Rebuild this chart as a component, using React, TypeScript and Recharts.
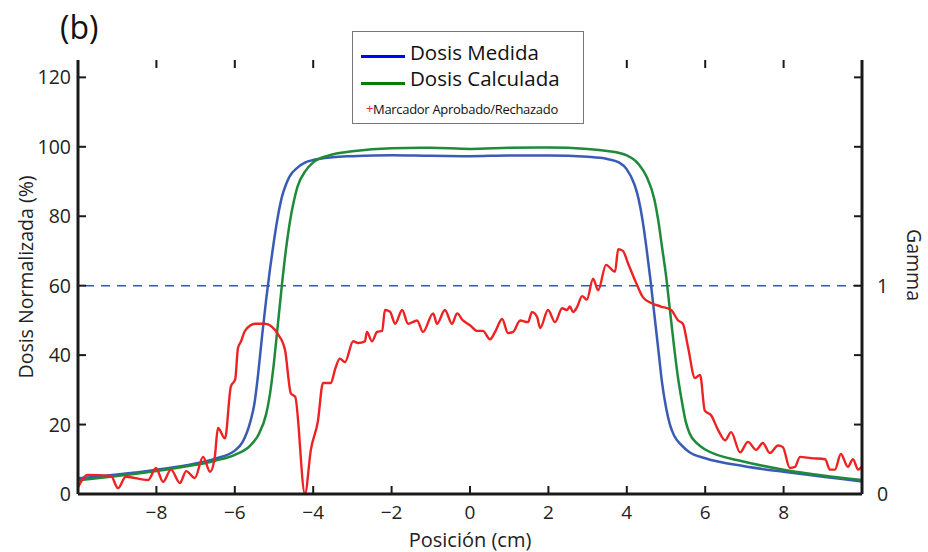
import { LineChart, Line, XAxis, YAxis, ReferenceLine } from "recharts";

// Dose profiles across the field: [position (cm), normalized dose (%)]
const dosisMedida: [number, number][] = [
  [-10, 4.5], [-9, 5.6], [-8, 7.0], [-7, 8.8], [-6.5, 10.2], [-6, 12.5], [-5.8, 15],
  [-5.6, 21], [-5.5, 26], [-5.4, 35], [-5.3, 46], [-5.2, 56], [-5.1, 65], [-5.0, 73],
  [-4.9, 80], [-4.8, 85.5], [-4.7, 89], [-4.6, 91.5], [-4.4, 94], [-4.2, 95.5], [-4, 96.2],
  [-3.5, 97], [-3, 97.3], [-2, 97.6], [-1, 97.4], [0, 97.3], [1, 97.5], [2, 97.5], [3, 97.1],
  [3.5, 96.5], [3.8, 95.5], [4, 93.5], [4.2, 89], [4.3, 85], [4.4, 79], [4.5, 71], [4.6, 62],
  [4.7, 52], [4.8, 42], [4.9, 32], [5.0, 25], [5.1, 20], [5.2, 17], [5.4, 14], [5.6, 12],
  [6, 10.3], [7, 8], [8, 6.4], [9, 5], [10, 3.6],
];

const dosisCalculada: [number, number][] = [
  [-10, 3.9], [-9, 5.2], [-8, 6.6], [-7, 8.4], [-6.5, 9.6], [-6, 11.3], [-5.6, 14],
  [-5.4, 17], [-5.2, 23], [-5.1, 29], [-5.0, 38], [-4.9, 49], [-4.8, 60], [-4.7, 70],
  [-4.6, 78], [-4.5, 84], [-4.4, 88.5], [-4.2, 93], [-4, 95.5], [-3.6, 97.5], [-3, 98.7],
  [-2, 99.6], [-1, 99.7], [0, 99.4], [1, 99.7], [2, 99.8], [3, 99.4], [3.5, 98.8], [4, 97.5],
  [4.3, 95], [4.5, 91.5], [4.7, 85], [4.8, 79], [4.9, 71], [5.0, 63], [5.1, 53], [5.2, 43],
  [5.3, 34], [5.4, 27], [5.5, 21], [5.6, 17.5], [5.8, 14.5], [6, 12.8], [7, 9.3], [8, 7],
  [9, 5.3], [10, 4],
];

// Gamma index along the profile: [position (cm), gamma]
const gamma: [number, number][] = [
  [-10, 0.033], [-9.75, 0.092], [-9.16, 0.087], [-8.98, 0.028], [-8.78, 0.083], [-8.21, 0.067],
  [-8.01, 0.125], [-7.83, 0.058], [-7.63, 0.117], [-7.4, 0.053], [-7.24, 0.11], [-7.02, 0.077],
  [-6.81, 0.178], [-6.63, 0.107], [-6.51, 0.178], [-6.43, 0.317], [-6.25, 0.267], [-6.1, 0.517],
  [-5.99, 0.55], [-5.92, 0.7], [-5.84, 0.733], [-5.74, 0.783], [-5.48, 0.817], [-5.23, 0.817],
  [-4.9, 0.767], [-4.72, 0.692], [-4.57, 0.483], [-4.46, 0.467], [-4.21, 0], [-4.06, 0.212],
  [-3.88, 0.35], [-3.75, 0.533], [-3.55, 0.533], [-3.44, 0.6], [-3.32, 0.65], [-3.19, 0.633],
  [-2.98, 0.733], [-2.86, 0.725], [-2.68, 0.733], [-2.63, 0.778], [-2.5, 0.733], [-2.37, 0.778],
  [-2.24, 0.783], [-2.17, 0.883], [-2.04, 0.875], [-1.91, 0.817], [-1.73, 0.883], [-1.58, 0.817],
  [-1.35, 0.833], [-1.2, 0.778], [-0.94, 0.867], [-0.84, 0.817], [-0.64, 0.883], [-0.46, 0.817],
  [-0.33, 0.867], [-0.18, 0.833], [0, 0.81], [0.18, 0.783], [0.33, 0.783], [0.51, 0.743],
  [0.64, 0.778], [0.82, 0.84], [0.97, 0.772], [1.1, 0.778], [1.28, 0.833], [1.48, 0.825],
  [1.58, 0.873], [1.71, 0.85], [1.79, 0.797], [1.99, 0.883], [2.17, 0.825], [2.35, 0.892],
  [2.47, 0.883], [2.55, 0.9], [2.63, 0.873], [2.73, 0.897], [2.86, 0.95], [2.98, 0.933],
  [3.14, 1.033], [3.27, 0.978], [3.47, 1.1], [3.7, 1.067], [3.78, 1.175], [3.9, 1.167],
  [4.03, 1.108], [4.23, 1.017], [4.41, 0.945], [4.62, 0.917], [4.87, 0.9], [5.13, 0.883],
  [5.31, 0.833], [5.43, 0.817], [5.56, 0.707], [5.74, 0.557], [5.87, 0.572], [5.99, 0.4],
  [6.15, 0.378], [6.33, 0.307], [6.51, 0.258], [6.66, 0.297], [6.89, 0.2], [7.09, 0.25],
  [7.3, 0.212], [7.47, 0.245], [7.65, 0.197], [7.86, 0.233], [7.98, 0.225], [8.16, 0.125],
  [8.29, 0.13], [8.42, 0.178], [8.7, 0.172], [9.06, 0.167], [9.18, 0.117], [9.31, 0.117],
  [9.46, 0.192], [9.64, 0.13], [9.77, 0.167], [9.9, 0.117], [10, 0.133],
];

const xTicks = [-8, -6, -4, -2, 0, 2, 4, 6, 8];
const doseTicks = [0, 20, 40, 60, 80, 100, 120];
const gammaTicks = [0, 1];

const W = 928;
const H = 552;
const LEFT = 78;
const RIGHT = 862;
const TOP = 60;
const BOTTOM = 494;
const FONT = "'Open Sans', 'DejaVu Sans', sans-serif";
const INK = "#1a1a1a";

const toRows = (pts: [number, number][]) => pts.map(([x, y]) => ({ x, y }));

const fmt = (v: number) => (v < 0 ? `\u2212${Math.abs(v)}` : `${v}`);

// MATLAB-style ticks: pointing inward, mirrored on the opposite edge
const XTick = ({ x, payload }: any) => (
  <g>
    <line x1={x} x2={x} y1={BOTTOM} y2={BOTTOM - 8} stroke={INK} strokeWidth={2} />
    <line x1={x} x2={x} y1={TOP} y2={TOP + 8} stroke={INK} strokeWidth={2} />
    <text x={x} y={BOTTOM + 25} textAnchor="middle" fontSize={19} fill="#222" fontFamily={FONT}>
      {fmt(payload.value)}
    </text>
  </g>
);

const DoseTick = ({ y, payload }: any) => (
  <g>
    <line x1={LEFT} x2={LEFT + 8} y1={y} y2={y} stroke={INK} strokeWidth={2} />
    <line x1={RIGHT - 8} x2={RIGHT} y1={y} y2={y} stroke={INK} strokeWidth={2} />
    <text x={LEFT - 7} y={y + 7} textAnchor="end" fontSize={19.5} fill="#222" fontFamily={FONT}>
      {payload.value}
    </text>
  </g>
);

const GammaTick = ({ y, payload }: any) => (
  <text x={RIGHT + 15} y={y + 7} textAnchor="start" fontSize={19.5} fill="#222" fontFamily={FONT}>
    {payload.value}
  </text>
);

export default function App() {
  return (
    <div style={{ position: "absolute", left: 0, top: 0, width: W, height: H, background: "#fff", fontFamily: FONT }}>
      <LineChart width={W} height={H} margin={{ top: TOP, right: 0, bottom: 0, left: 0 }}>
        <XAxis
          dataKey="x"
          type="number"
          domain={[-10, 10]}
          ticks={xTicks}
          allowDataOverflow
          height={H - BOTTOM}
          axisLine={{ stroke: INK, strokeWidth: 3 }}
          tickLine={false}
          tick={<XTick />}
          label={{ value: "Posición (cm)", position: "insideBottom", offset: 5, fontSize: 20, fill: "#222", fontFamily: FONT }}
        />
        <XAxis xAxisId="top" orientation="top" type="number" domain={[-10, 10]} height={0} tick={false} tickLine={false} axisLine={{ stroke: INK, strokeWidth: 3 }} />
        <YAxis
          yAxisId="dose"
          type="number"
          domain={[0, 125]}
          ticks={doseTicks}
          width={LEFT}
          axisLine={{ stroke: INK, strokeWidth: 3 }}
          tickLine={false}
          tick={<DoseTick />}
          label={{ value: "Dosis Normalizada (%)", angle: -90, position: "insideLeft", offset: 26, fontSize: 19.5, fill: "#222", fontFamily: FONT, style: { textAnchor: "middle" } }}
        />
        <YAxis
          yAxisId="gamma"
          orientation="right"
          type="number"
          domain={[0, 2.0833]}
          ticks={gammaTicks}
          width={W - RIGHT}
          axisLine={{ stroke: INK, strokeWidth: 3 }}
          tickLine={false}
          tick={<GammaTick />}
          label={{ value: "Gamma", angle: 90, position: "insideRight", offset: 14, dy: -12, fontSize: 19.5, fill: "#222", fontFamily: FONT, style: { textAnchor: "middle" } }}
        />
        <ReferenceLine yAxisId="gamma" y={1} stroke="#3554c4" strokeWidth={1.6} strokeDasharray="9 7" />
        <Line yAxisId="dose" data={toRows(dosisMedida)} dataKey="y" type="monotone" stroke="#3a5bb5" strokeWidth={2.5} dot={false} isAnimationActive={false} />
        <Line yAxisId="dose" data={toRows(dosisCalculada)} dataKey="y" type="monotone" stroke="#1e8a3a" strokeWidth={2.5} dot={false} isAnimationActive={false} />
        <Line yAxisId="gamma" data={toRows(gamma)} dataKey="y" type="monotone" stroke="#ee2222" strokeWidth={2.4} dot={false} isAnimationActive={false} />
      </LineChart>

      <div style={{ position: "absolute", left: 60, top: 5, fontSize: 32, color: "#111" }}>(b)</div>

      {/* legend box */}
      <div
        style={{
          position: "absolute",
          left: 352,
          top: 31,
          width: 230,
          height: 91,
          background: "#fff",
          border: "1px solid #777",
          color: "#111",
        }}
      >
        <div style={{ position: "absolute", left: 8, top: 23, width: 44, height: 3, background: "#0000ff" }} />
        <div style={{ position: "absolute", left: 57, top: 8, fontSize: 20.5, lineHeight: "24px" }}>Dosis Medida</div>
        <div style={{ position: "absolute", left: 8, top: 50, width: 44, height: 3, background: "#008000" }} />
        <div style={{ position: "absolute", left: 57, top: 34, fontSize: 20.5, lineHeight: "24px" }}>Dosis Calculada</div>
        <div style={{ position: "absolute", left: 13, top: 66, fontSize: 13, lineHeight: "20px", color: "#ee2222" }}>+</div>
        <div style={{ position: "absolute", left: 20, top: 67, fontSize: 13, lineHeight: "20px", letterSpacing: -0.3 }}>
          Marcador Aprobado/Rechazado
        </div>
      </div>
    </div>
  );
}
